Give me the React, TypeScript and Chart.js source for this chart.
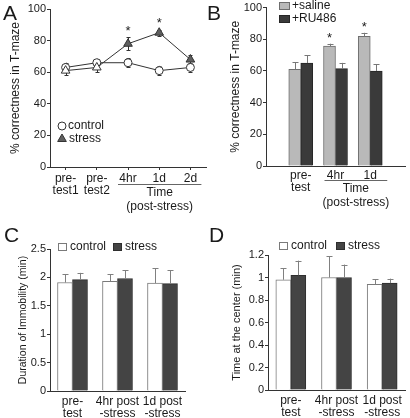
import React, { useEffect, useRef } from "react";
import { Chart, registerables } from "chart.js";
Chart.register(...registerables);

const FONT = "'Liberation Sans', Arial, Helvetica, sans-serif";
const TXT = "#1a1a1a";
const AX = "#333333";

// ---------- Panel A ----------
const aLabels = [["pre-", "test1"], ["pre-", "test2"], "4hr", "1d", "2d"];
const aControl = [63, 66, 66, 61, 63];
const aControlErr = [3, 2.5, 3, 3, 3];
const aStress = [61, 63, 78, 85, 68];
const aStressErr = [3, 3, 4, 2, 3];
const aSig = ["", "", "*", "*", ""];

// ---------- Panel B ----------
const bLabels = ["", ["pre-", "test"], "4hr", "1d", ""];
const bSaline = [null, 61, 75.7, 81.8, null];
const bSalineErr = [null, 4.4, 1.5, 2.3, null];
const bRU = [null, 65, 61.5, 60, null];
const bRUErr = [null, 4.8, 3.6, 4.1, null];
const bSig = ["", "", "*", "*", ""];

// ---------- Panel C ----------
const cLabels = [["pre-", "test"], ["4hr post", "-stress"], ["1d post", "-stress"]];
const cControl = [1.91, 1.93, 1.9];
const cControlErr = [0.15, 0.13, 0.26];
const cStress = [1.96, 1.98, 1.89];
const cStressErr = [0.12, 0.15, 0.24];

// ---------- Panel D ----------
const dLabels = [["pre-", "test"], ["4hr post", "-stress"], ["1d post", "-stress"]];
const dControl = [0.98, 1.0, 0.94];
const dControlErr = [0.1, 0.19, 0.045];
const dStress = [1.02, 1.0, 0.95];
const dStressErr = [0.13, 0.115, 0.04];

type Area = { left: number; right: number; top: number; bottom: number };

function font(size: number, lineHeight = 1.2) {
  return { family: FONT, size, lineHeight };
}

const fmt = (v: any) => String(Math.round(Number(v) * 100) / 100);

function yScale(min: number, max: number, step: number, width: number) {
  return {
    min,
    max,
    ticks: {
      stepSize: step,
      autoSkip: false,
      font: font(11),
      color: "rgba(0,0,0,0)",
      padding: 1,
      callback: fmt,
    },
    grid: { drawOnChartArea: false, drawTicks: true, tickLength: 3, color: AX, lineWidth: 1 },
    border: { display: true, color: AX, width: 1 },
    title: { display: false },
    afterFit: (s: any) => {
      s.width = width;
    },
  };
}

function xScale(offset: boolean, ticksOn: boolean, height: number, pad: number) {
  return {
    offset,
    ticks: { font: font(12, 1.05), color: TXT, padding: pad, maxRotation: 0, minRotation: 0, autoSkip: false },
    grid: { display: ticksOn, drawOnChartArea: false, drawTicks: ticksOn, tickLength: 3, color: AX, offset: false },
    border: { display: true, color: AX, width: 1 },
    afterFit: (s: any) => {
      s.height = height;
    },
  };
}

type ErrSpec = { ds: number; err: (number | null)[]; both: boolean; color: string; cap: number };

function extras(
  errs: ErrSpec[],
  layer: "before" | "after",
  star: { ds: number; err: (number | null)[]; sig: string[]; gap: number } | null,
  yTitle: { text: string; x: number; size: number },
  draw: (c: any) => void
) {
  const drawErrs = (chart: any) => {
    const ctx = chart.ctx;
    const ys = chart.scales.y;
    ctx.save();
    for (const e of errs) {
      const meta = chart.getDatasetMeta(e.ds);
      const data = chart.data.datasets[e.ds].data as (number | null)[];
      meta.data.forEach((el: any, i: number) => {
        const v = data[i];
        const er = e.err[i];
        if (v == null || er == null) return;
        const x = Math.round(el.x) + 0.5;
        const yt = ys.getPixelForValue(v + er);
        const yb = e.both ? ys.getPixelForValue(v - er) : ys.getPixelForValue(v);
        ctx.strokeStyle = e.color;
        ctx.lineWidth = 1;
        ctx.beginPath();
        ctx.moveTo(x, yt);
        ctx.lineTo(x, yb);
        ctx.moveTo(x - e.cap, Math.round(yt) + 0.5);
        ctx.lineTo(x + e.cap, Math.round(yt) + 0.5);
        if (e.both) {
          ctx.moveTo(x - e.cap, Math.round(yb) + 0.5);
          ctx.lineTo(x + e.cap, Math.round(yb) + 0.5);
        }
        ctx.stroke();
      });
    }
    ctx.restore();
  };
  return {
    id: "extras",
    beforeDatasetsDraw(chart: any) {
      if (layer === "before") drawErrs(chart);
    },
    afterDatasetsDraw(chart: any) {
      if (layer === "after") drawErrs(chart);
      const ctx = chart.ctx;
      const ys = chart.scales.y;
      const ca = chart.chartArea;
      ctx.save();
      if (star) {
        const meta = chart.getDatasetMeta(star.ds);
        const data = chart.data.datasets[star.ds].data as (number | null)[];
        ctx.fillStyle = TXT;
        ctx.font = `13px ${FONT}`;
        ctx.textAlign = "center";
        ctx.textBaseline = "middle";
        meta.data.forEach((el: any, i: number) => {
          const v = data[i];
          if (!star.sig[i] || v == null) return;
          const y = ys.getPixelForValue(v + (star.err[i] || 0)) - star.gap;
          ctx.fillText(star.sig[i], el.x, y + 3);
        });
      }
      // y axis title
      ctx.save();
      ctx.translate(yTitle.x, (ca.top + ca.bottom) / 2);
      ctx.rotate(-Math.PI / 2);
      text(ctx, yTitle.text, 0, 0, yTitle.size, "center");
      ctx.restore();
      // y tick labels from the scale's own ticks
      for (const t of ys.ticks) {
        text(ctx, fmt(t.value), ca.left - 4, ys.getPixelForValue(t.value), 11, "right");
      }
      draw(chart);
      ctx.restore();
    },
  };
}

function text(ctx: any, s: string, x: number, y: number, size: number, align: string = "left") {
  ctx.font = `${size}px ${FONT}`;
  ctx.fillStyle = TXT;
  ctx.textAlign = align;
  ctx.textBaseline = "middle";
  ctx.fillText(s, x, y);
}

function box(ctx: any, x: number, y: number, w: number, h: number, fill: string, stroke: string) {
  ctx.fillStyle = fill;
  ctx.fillRect(x, y, w, h);
  ctx.strokeStyle = stroke;
  ctx.lineWidth = 1;
  ctx.strokeRect(x + 0.5, y + 0.5, w - 1, h - 1);
}

function timeNote(ctx: any, x0: number, x1: number, y: number) {
  ctx.strokeStyle = "#666";
  ctx.lineWidth = 1;
  ctx.beginPath();
  ctx.moveTo(x0, Math.round(y) + 0.5);
  ctx.lineTo(x1, Math.round(y) + 0.5);
  ctx.stroke();
  const cx = (x0 + x1) / 2;
  text(ctx, "Time", cx, y + 9, 12, "center");
  text(ctx, "(post-stress)", cx, y + 23, 12, "center");
}

function layoutFor(area: Area, w: number) {
  return { padding: { left: 0, right: w - area.right, top: area.top, bottom: 0 } };
}

function useChart(ref: React.RefObject<HTMLCanvasElement | null>, make: () => any) {
  useEffect(() => {
    const chart = new Chart(ref.current as HTMLCanvasElement, make());
    return () => chart.destroy();
  }, []);
}

const common = {
  responsive: false,
  animation: false as const,
  devicePixelRatio: 1,
};

function PanelA() {
  const ref = useRef<HTMLCanvasElement>(null);
  const W = 212, H = 215;
  const area: Area = { left: 50, right: 208, top: 9, bottom: 167 };
  useChart(ref, () => ({
    type: "line",
    data: {
      labels: aLabels,
      datasets: [
        {
          label: "control",
          data: aControl,
          borderColor: AX,
          borderWidth: 1,
          pointStyle: "circle",
          pointRadius: 4,
          pointBackgroundColor: "#ffffff",
          pointBorderColor: AX,
          pointBorderWidth: 1,
          order: 1,
        },
        {
          label: "stress",
          data: aStress,
          borderColor: AX,
          borderWidth: 1,
          pointStyle: "triangle",
          pointRadius: 5,
          pointBackgroundColor: ["#ffffff", "#ffffff", "#5f5f5f", "#5f5f5f", "#5f5f5f"],
          pointBorderColor: AX,
          pointBorderWidth: 1,
          order: 0,
        },
      ],
    },
    options: {
      ...common,
      layout: layoutFor(area, W),
      plugins: { legend: { display: false }, tooltip: { enabled: false } },
      scales: {
        x: xScale(true, true, H - area.bottom, 2),
        y: yScale(0, 100, 20, area.left),
      },
    },
    plugins: [
      extras(
        [
          { ds: 0, err: aControlErr, both: true, color: AX, cap: 2 },
          { ds: 1, err: aStressErr, both: true, color: AX, cap: 2 },
        ],
        "before",
        { ds: 1, err: aStressErr, sig: aSig, gap: 9 },
        { text: "% correctness in T-maze", x: 16, size: 12 },
        (chart: any) => {
          const ctx = chart.ctx;
          const xs = chart.scales.x;
          const ca = chart.chartArea;
          text(ctx, "A", 3, 14, 21);
          ctx.beginPath();
          ctx.arc(62, 126, 4, 0, Math.PI * 2);
          ctx.fillStyle = "#fff";
          ctx.fill();
          ctx.strokeStyle = AX;
          ctx.lineWidth = 1;
          ctx.stroke();
          text(ctx, "control", 68, 126, 12);
          const r = 5, tx = 62, ty = 139;
          ctx.beginPath();
          ctx.moveTo(tx, ty - r);
          ctx.lineTo(tx + r * 0.866, ty + r / 2);
          ctx.lineTo(tx - r * 0.866, ty + r / 2);
          ctx.closePath();
          ctx.fillStyle = "#5f5f5f";
          ctx.fill();
          ctx.stroke();
          text(ctx, "stress", 69, 139, 12);
          timeNote(ctx, xs.getPixelForValue(2) - 10, xs.getPixelForValue(4) + 11, ca.bottom + 17);
        }
      ),
    ],
  }));
  return <canvas ref={ref} width={W} height={H} style={{ position: "absolute", left: 0, top: 0, width: W, height: H }} />;
}

function PanelB() {
  const ref = useRef<HTMLCanvasElement>(null);
  const W = 205, H = 215;
  const area: Area = { left: 61, right: 200, top: 7, bottom: 166 };
  useChart(ref, () => ({
    type: "bar",
    data: {
      labels: bLabels,
      datasets: [
        { label: "+saline", data: bSaline, backgroundColor: "#b9b9b9", borderColor: "#6e6e6e", borderWidth: 1, barThickness: 12 },
        { label: "+RU486", data: bRU, backgroundColor: "#3a3a3a", borderColor: "#262626", borderWidth: 1, barThickness: 12 },
      ],
    },
    options: {
      ...common,
      layout: layoutFor(area, W),
      plugins: { legend: { display: false }, tooltip: { enabled: false } },
      scales: {
        x: xScale(false, false, H - area.bottom, 3),
        y: yScale(0, 100, 20, area.left),
      },
    },
    plugins: [
      extras(
        [
          { ds: 0, err: bSalineErr, both: false, color: "#777", cap: 3 },
          { ds: 1, err: bRUErr, both: false, color: "#777", cap: 3 },
        ],
        "after",
        { ds: 0, err: bSalineErr, sig: bSig, gap: 8 },
        { text: "% correctness in T-maze", x: 31, size: 12 },
        (chart: any) => {
          const ctx = chart.ctx;
          const xs = chart.scales.x;
          const ca = chart.chartArea;
          text(ctx, "B", 2, 14, 21);
          box(ctx, 74, 2, 11, 8, "#b9b9b9", "#6e6e6e");
          text(ctx, "+saline", 87, 6, 12);
          box(ctx, 74, 15, 11, 8, "#3a3a3a", "#262626");
          text(ctx, "+RU486", 87, 19, 12);
          timeNote(ctx, xs.getPixelForValue(2) - 11, xs.getPixelForValue(3) + 17, ca.bottom + 14);
        }
      ),
    ],
  }));
  return <canvas ref={ref} width={W} height={H} style={{ position: "absolute", left: 205, top: 0, width: W, height: H }} />;
}

function barPanel(
  letter: string,
  labels: any[],
  ctl: number[],
  ctlErr: number[],
  str: number[],
  strErr: number[],
  max: number,
  step: number,
  title: string,
  titleX: number,
  titleSize: number,
  area: Area,
  W: number,
  H: number,
  legendY: number,
  legendX: number,
  stressX: number
) {
  return {
    type: "bar",
    data: {
      labels,
      datasets: [
        { label: "control", data: ctl, backgroundColor: "#ffffff", borderColor: "#7a7a7a", borderWidth: 1, barThickness: 15 },
        { label: "stress", data: str, backgroundColor: "#444444", borderColor: "#2e2e2e", borderWidth: 1, barThickness: 15 },
      ],
    },
    options: {
      ...common,
      layout: layoutFor(area, W),
      plugins: { legend: { display: false }, tooltip: { enabled: false } },
      scales: {
        x: xScale(true, false, H - area.bottom, 4),
        y: yScale(0, max, step, area.left),
      },
    },
    plugins: [
      extras(
        [
          { ds: 0, err: ctlErr, both: false, color: "#808080", cap: 3 },
          { ds: 1, err: strErr, both: false, color: "#808080", cap: 3 },
        ],
        "after",
        null,
        { text: title, x: titleX, size: titleSize },
        (chart: any) => {
          const ctx = chart.ctx;
          text(ctx, letter, 4, 21, 21);
          box(ctx, legendX, legendY - 4, 9, 8, "#ffffff", "#7a7a7a");
          text(ctx, "control", legendX + 12, legendY, 12);
          box(ctx, stressX, legendY - 4, 9, 8, "#444444", "#2e2e2e");
          text(ctx, "stress", stressX + 12, legendY, 12);
        }
      ),
    ],
  };
}

function PanelC() {
  const ref = useRef<HTMLCanvasElement>(null);
  const W = 205, H = 203;
  const area: Area = { left: 50, right: 185, top: 34, bottom: 176 };
  useChart(ref, () =>
    barPanel("C", cLabels, cControl, cControlErr, cStress, cStressErr, 2.5, 0.5, "Duration of Immobility (min)", 23, 10.5, area, W, H, 32, 58, 113)
  );
  return <canvas ref={ref} width={W} height={H} style={{ position: "absolute", left: 0, top: 215, width: W, height: H }} />;
}

function PanelD() {
  const ref = useRef<HTMLCanvasElement>(null);
  const W = 205, H = 203;
  const area: Area = { left: 63, right: 200, top: 40, bottom: 175 };
  useChart(ref, () =>
    barPanel("D", dLabels, dControl, dControlErr, dStress, dStressErr, 1.2, 0.2, "Time at the center (min)", 32, 11, area, W, H, 31, 74, 131)
  );
  return <canvas ref={ref} width={W} height={H} style={{ position: "absolute", left: 205, top: 215, width: W, height: H }} />;
}

export default function App() {
  return (
    <div style={{ position: "absolute", left: 0, top: 0, width: 410, height: 418, background: "#ffffff", overflow: "hidden" }}>
      <PanelC />
      <PanelD />
      <PanelB />
      <PanelA />
    </div>
  );
}
